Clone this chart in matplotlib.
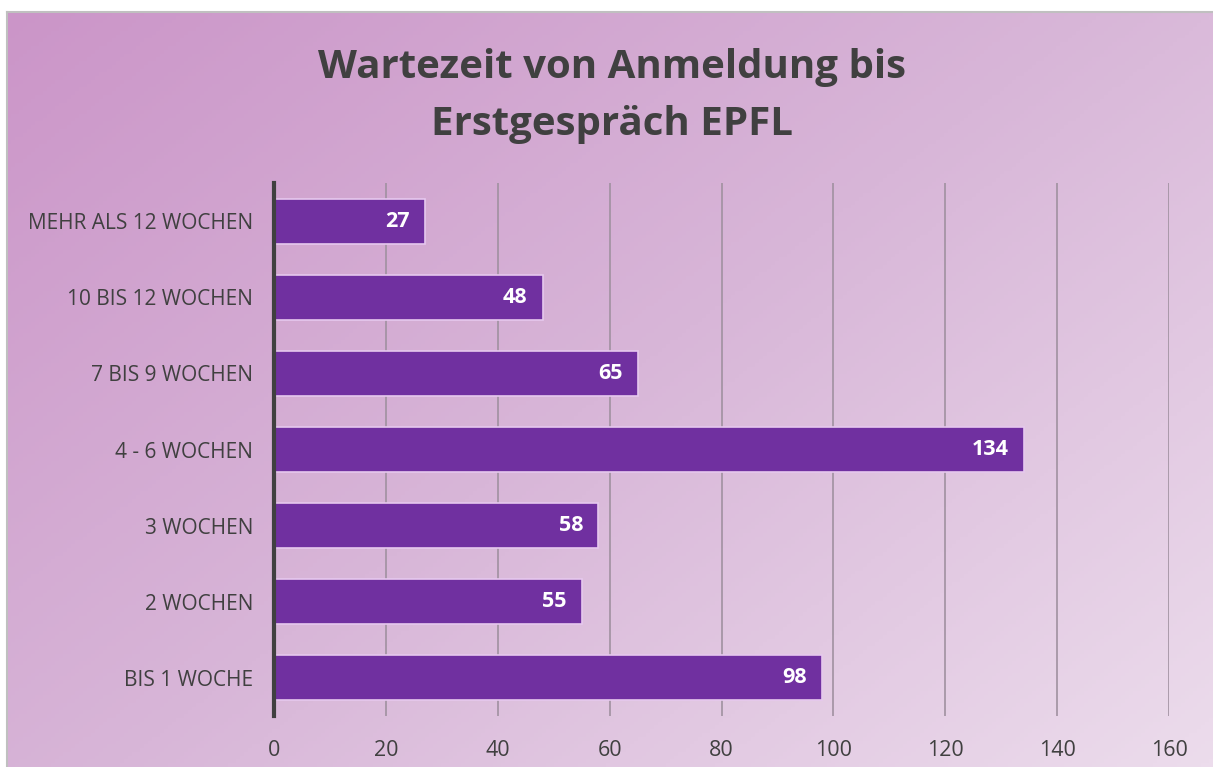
import numpy as np
import matplotlib
matplotlib.use("Agg")
import matplotlib.pyplot as plt
from matplotlib.colors import LinearSegmentedColormap

categories = ["BIS 1 WOCHE", "2 WOCHEN", "3 WOCHEN", "4 - 6 WOCHEN",
              "7 BIS 9 WOCHEN", "10 BIS 12 WOCHEN", "MEHR ALS 12 WOCHEN"]
values = [98, 55, 58, 134, 65, 48, 27]
xticks = [0, 20, 40, 60, 80, 100, 120, 140, 160]
title = "Wartezeit von Anmeldung bis\nErstgespräch EPFL"

W, H = 1213, 767
fig = plt.figure(figsize=(W / 100, H / 100), dpi=100)
fig.patch.set_facecolor("white")

# background gradient panel
bx0, by0 = 7 / W, 0
bw, bh = 1 - bx0, 1 - 12 / H
bg = fig.add_axes([bx0, by0, bw, bh])
yy, xx = np.mgrid[0:1:200j, 0:1:300j]
t = (xx * 0.55 + yy * 0.45)
cmap = LinearSegmentedColormap.from_list("bg", ["#cb95c8", "#d8b6d8", "#ecdcec"])
bg.imshow(t, cmap=cmap, aspect="auto", extent=[0, 1, 0, 1], origin="upper", vmin=0, vmax=1)
bg.set_xlim(0, 1); bg.set_ylim(0, 1)
bg.axis("off")
fig.add_artist(plt.Line2D([bx0 - 0.5 / W, bx0 - 0.5 / W], [0, bh + 0.5 / H], color="#c0c0c0", lw=1.5, transform=fig.transFigure))
fig.add_artist(plt.Line2D([bx0 - 0.5 / W, 1], [bh + 0.5 / H, bh + 0.5 / H], color="#c0c0c0", lw=1.5, transform=fig.transFigure))

# main axes: x 0->274px, 160->1169px; y top 183, bottom 716
left, right = 274, 1169
top, bottom = 183, 716
ax = fig.add_axes([left / W, 1 - bottom / H, (right - left) / W, (bottom - top) / H])
ax.set_facecolor("none")
y = np.arange(len(categories))
ax.barh(y, values, height=0.59, color="#7030a0", edgecolor="#e6c8ee", linewidth=1.2, zorder=3)
ax.set_xlim(0, 160)
ax.set_ylim(-0.5, len(categories) - 0.5)
ax.set_xticks(xticks)
ax.set_yticks(y)
ax.set_yticklabels(categories)
for s in ["top", "right", "bottom"]:
    ax.spines[s].set_visible(False)
ax.spines["left"].set_color("#404040")
ax.spines["left"].set_linewidth(3)
ax.spines["left"].set_zorder(4)
ax.grid(axis="x", color="#a091a0", linewidth=1.2, zorder=1)
ax.tick_params(axis="x", length=0, pad=17, labelsize=15.5, labelcolor="#404040")
ax.tick_params(axis="y", length=0, pad=15, labelsize=15, labelcolor="#404040")
for lab in ax.get_xticklabels() + ax.get_yticklabels():
    lab.set_fontfamily("Open Sans")

for yi, v in zip(y, values):
    ax.text(v - 2.7, yi, str(v), ha="right", va="center", color="white",
            fontsize=15.5, fontweight="bold", fontfamily="Open Sans", zorder=5)

fig.text(612 / W, 1 - 96 / H, title, ha="center", va="center", fontsize=29,
         fontweight="bold", color="#404040", fontfamily="Open Sans", linespacing=1.62)

fig.savefig("out.png", dpi=100)
